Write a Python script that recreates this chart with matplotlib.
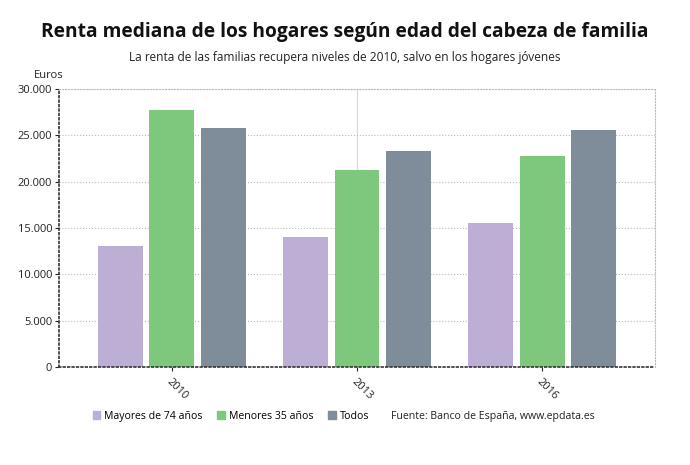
import numpy as np
import matplotlib.pyplot as plt
from matplotlib.patches import Patch
from matplotlib.ticker import FuncFormatter
from matplotlib import font_manager as fm

plt.rcParams['font.family'] = ['Open Sans', 'DejaVu Sans']


def font_file(name):
    for f in fm.fontManager.ttflist:
        if f.fname.endswith("/" + name):
            return f.fname
    return None


bold_path = font_file("OpenSans-Bold.ttf")
reg_path = font_file("OpenSans-Regular.ttf")
title_font = fm.FontProperties(fname=bold_path, size=13.8) if bold_path else fm.FontProperties(weight="bold", size=13.8)
reg = (lambda s: fm.FontProperties(fname=reg_path, size=s)) if reg_path else (lambda s: fm.FontProperties(size=s))

years = ["2010", "2013", "2016"]
mayores_74 = [13100, 14000, 15500]
menores_35 = [27700, 21250, 22800]
todos = [25800, 23300, 25600]
series_names = ["Mayores de 74 años", "Menores 35 años", "Todos"]
colors = ["#bcaed4", "#7dc87d", "#7f8c99"]

fig = plt.figure(figsize=(6.9, 4.65), dpi=100)
ax = fig.add_axes([59 / 690, 1 - 367 / 465, 596 / 690, 278 / 465])

x = np.arange(len(years))
step = 0.278
width = 0.243
for i, vals in enumerate([mayores_74, menores_35, todos]):
    ax.bar(x + (i - 1) * step, vals, width, color=colors[i], zorder=2)

ax.set_xlim(-0.61, 2.61)
ax.set_ylim(0, 30000)
ax.set_yticks(np.arange(0, 30001, 5000))
ax.yaxis.set_major_formatter(FuncFormatter(lambda v, p: f"{int(v):,}".replace(",", ".")))
ax.set_xticks(x)
ax.set_xticklabels(years, rotation=-45, ha="left", rotation_mode="anchor")
for lab in ax.get_xticklabels() + ax.get_yticklabels():
    lab.set_fontproperties(reg(8))
ax.tick_params(axis="both", colors="#222222", length=3)
ax.tick_params(axis="x", pad=4)
ax.tick_params(axis="y", pad=2)

ax.grid(axis="y", color="#bbbbbb", linestyle=":", linewidth=0.8, zorder=0)
ax.axvline(1, color="#d8d8d8", linewidth=0.8, zorder=0)
for s in ["left", "bottom"]:
    ax.spines[s].set_linestyle(":")
    ax.spines[s].set_color("#333333")
    ax.spines[s].set_linewidth(1.2)
for s in ["top", "right"]:
    ax.spines[s].set_linestyle(":")
    ax.spines[s].set_color("#bbbbbb")

fig.text(0.5, 1 - 32 / 465, "Renta mediana de los hogares según edad del cabeza de familia",
         ha="center", va="center", fontproperties=title_font, color="#111111")
fig.text(0.5, 1 - 57 / 465, "La renta de las familias recupera niveles de 2010, salvo en los hogares jóvenes",
         ha="center", va="center", fontproperties=reg(8.6), color="#222222")
fig.text(49 / 690, 1 - 75 / 465, "Euros", ha="center", va="center", fontproperties=reg(8), color="#222222")

handles = [Patch(color=c) for c in colors]
fig.legend(handles, series_names, loc="center left", bbox_to_anchor=(83 / 690, 1 - 416 / 465),
           ncol=3, frameon=False, prop=reg(7.6), handlelength=0.7, handleheight=0.7,
           handletextpad=0.4, columnspacing=1.4)
fig.text(391 / 690, 1 - 416 / 465, "Fuente: Banco de España, www.epdata.es",
         ha="left", va="center", fontproperties=reg(7.6), color="#222222")

fig.savefig("out.png", dpi=100)
